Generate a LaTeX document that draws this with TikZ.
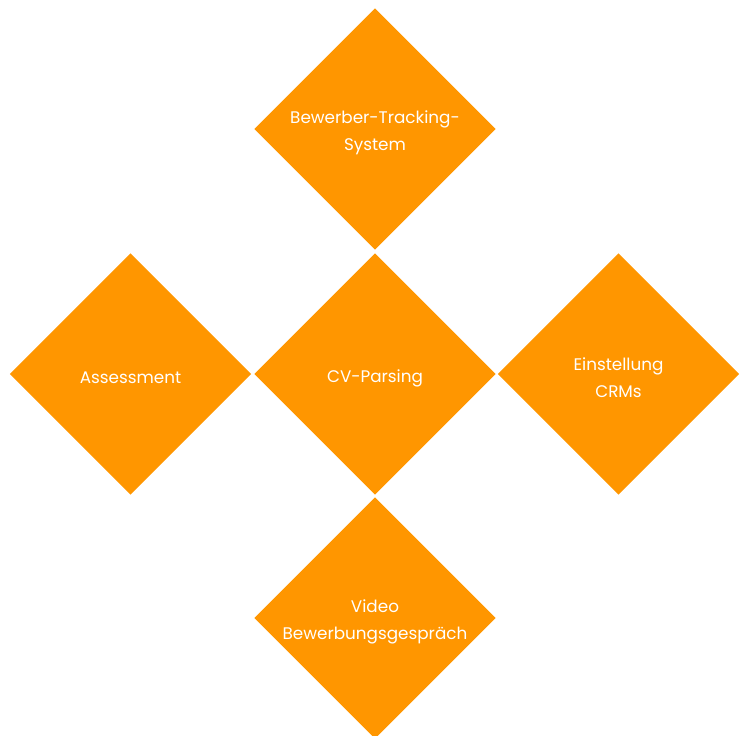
\documentclass[tikz,border=0pt]{standalone}
\usepackage{fontspec}
\setmainfont{Poppins}
\usetikzlibrary{shapes.geometric}
\definecolor{tileorange}{RGB}{255,150,0}
\tikzset{
  tile/.style={diamond, aspect=1, fill=tileorange, draw=none, inner sep=0pt,
    minimum width=181pt, minimum height=181pt},
  tiletext/.style={text=white, align=center, inner sep=0pt, yshift=-3pt,
    font=\fontsize{12.6}{20}\selectfont}
}
\begin{document}
\begin{tikzpicture}[x=0.75pt,y=-0.75pt]
  \useasboundingbox (0,0) rectangle (741,735);
  % diamond tiles
  \node[tile] (ats)    at (375,129) {};
  \node[tile] (assess) at (130.5,374) {};
  \node[tile] (cv)     at (375,374) {};
  \node[tile] (crm)    at (618.5,374) {};
  \node[tile] (video)  at (375,618) {};
  % captions
  \node[tiletext] (atsT)    at (ats.center)    {Bewerber-Tracking-\\System};
  \node[tiletext] (assessT) at (assess.center) {Assessment};
  \node[tiletext] (cvT)     at (cv.center)     {CV-Parsing};
  \node[tiletext] (crmT)    at (crm.center)    {Einstellung\\CRMs};
  \node[tiletext] (videoT)  at (video.center)  {Video\\Bewerbungsgespräch};
\end{tikzpicture}
\end{document}
